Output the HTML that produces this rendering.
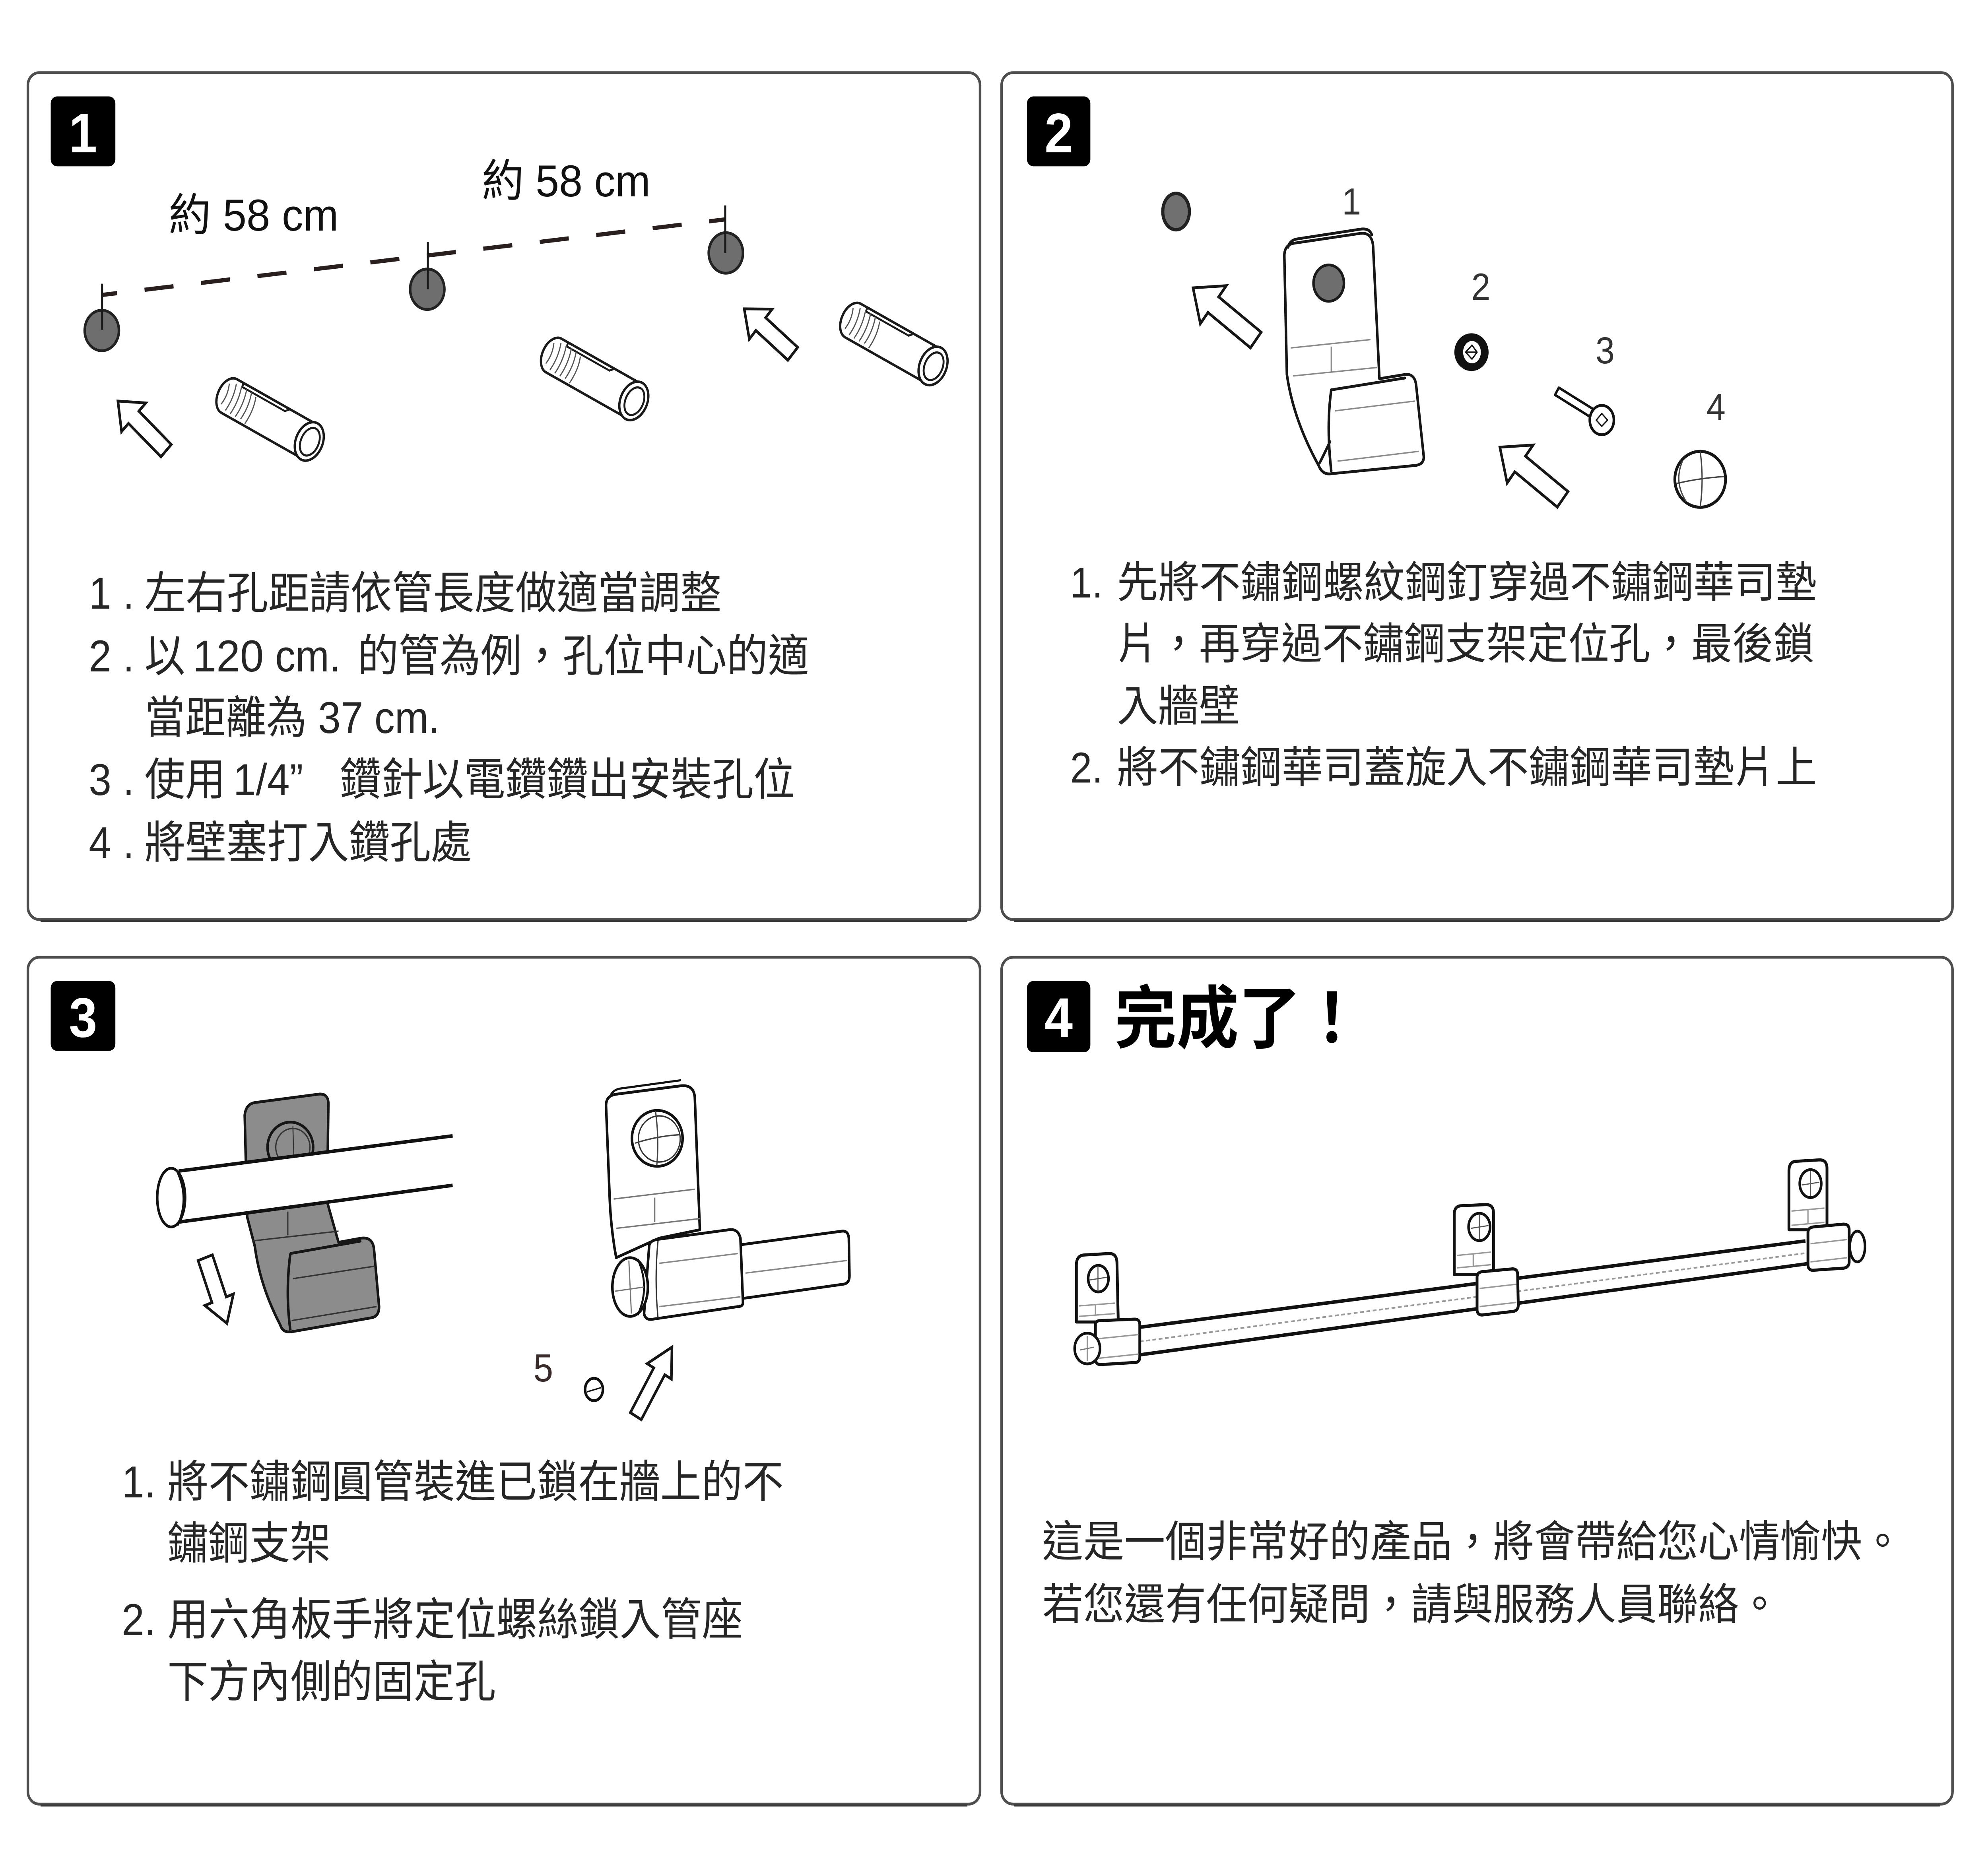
<!DOCTYPE html>
<html>
<head>
<meta charset="utf-8">
<style>
html,body{margin:0;padding:0;background:#fff;overflow:hidden;width:100%;height:100%;}
svg{display:block;position:fixed;left:0;top:0;width:100vw;height:100vh;}
</style>
</head>
<body>
<svg xmlns="http://www.w3.org/2000/svg" xmlns:xlink="http://www.w3.org/1999/xlink" viewBox="0 0 1568 1338.16" preserveAspectRatio="none">
<style>
.t{font-family:"Liberation Sans","Noto Sans CJK TC",sans-serif;fill:#262626;}
.b{font-family:"Liberation Sans","Noto Sans CJK TC",sans-serif;font-weight:bold;fill:#fff;}
.ln{fill:none;stroke:#161616;stroke-width:2;stroke-linejoin:round;stroke-linecap:round;}
.gl{fill:none;stroke:#8a8a8a;stroke-width:1;}
.ar{fill:#fff;stroke:#161616;stroke-width:2;stroke-linejoin:miter;}
</style>
<defs>
  <g id="anc">
    <path d="M2,-13.5 L72,-13.5 L72,13.5 L2,13.5 A9,13.5 0 0 1 2,-13.5 Z" fill="#fff" stroke="#1a1a1a" stroke-width="1.8"/>
    <path d="M8,-13.5 L8,-10.5 L46,-10.5 L49,-13.5" fill="none" stroke="#1a1a1a" stroke-width="1.4"/>
    <path d="M-2,-8 Q1,0 -1,8 M3,-10.5 Q6,0 4,10.5 M7.5,-11 Q10.5,0 8.5,11 M12,-11 Q15,0 13,11 M16.5,-10.5 Q19.5,0 17.5,10.5 M21,-9 Q24,0 22,12" fill="none" stroke="#555" stroke-width="0.9"/>
    <ellipse cx="73" cy="0" rx="10.5" ry="14.5" fill="#fff" stroke="#1a1a1a" stroke-width="1.8"/>
    <ellipse cx="73.5" cy="0" rx="7" ry="10.5" fill="#fff" stroke="#1a1a1a" stroke-width="1.5"/>
  </g>
</defs>

<rect x="0" y="0" width="1568" height="1338.16" fill="#fff"/>

<!-- Panels -->
<g fill="#fff" stroke="#4e4e4e" stroke-width="2">
  <rect x="22" y="52" width="751" height="606" rx="9"/>
  <rect x="790" y="52" width="750" height="606" rx="9"/>
  <rect x="22" y="685" width="751" height="606" rx="9"/>
  <rect x="790" y="685" width="750" height="606" rx="9"/>
</g>
<g fill="none" stroke="#3a3a3a" stroke-width="1.5">
  <path d="M32,659 L763,659"/>
  <path d="M800,659 L1530,659"/>
  <path d="M32,1292 L763,1292"/>
  <path d="M800,1292 L1530,1292"/>
</g>

<!-- Badges -->
<rect x="40" y="69" width="51" height="50" rx="5" fill="#000"/>
<text class="b" x="65.5" y="109" font-size="40" text-anchor="middle">1</text>
<rect x="810" y="69" width="50" height="50" rx="5" fill="#000"/>
<text class="b" x="835" y="109" font-size="40" text-anchor="middle">2</text>
<rect x="40" y="702" width="51" height="50" rx="5" fill="#000"/>
<text class="b" x="65.5" y="742" font-size="40" text-anchor="middle">3</text>
<rect x="810" y="702" width="50" height="51" rx="5" fill="#000"/>
<text class="b" x="835" y="742" font-size="40" text-anchor="middle">4</text>
<text class="t" x="879" y="746" font-size="49" font-weight="bold" style="fill:#000">完成了！</text>

<!-- ============ PANEL 1 drawing ============ -->
<text class="t" x="133" y="165" font-size="32" textLength="134" lengthAdjust="spacingAndGlyphs" style="fill:#111">約 58 cm</text>
<text class="t" x="380" y="140.5" font-size="32" textLength="133" lengthAdjust="spacingAndGlyphs" style="fill:#111">約 58 cm</text>

<line x1="81" y1="211" x2="572" y2="157" stroke="#2a1f1f" stroke-width="3" stroke-dasharray="23 21.8" stroke-dashoffset="11.6"/>

<ellipse cx="80.3" cy="236.5" rx="13.5" ry="14.5" fill="#6e6e6e" stroke="#222" stroke-width="2"/>
<ellipse cx="337" cy="207" rx="13.5" ry="14.5" fill="#6e6e6e" stroke="#222" stroke-width="2"/>
<ellipse cx="572.5" cy="181" rx="13.5" ry="14.5" fill="#6e6e6e" stroke="#222" stroke-width="2"/>
<g stroke="#1a1a1a" stroke-width="1.6">
  <line x1="80.5" y1="203" x2="80.5" y2="236"/>
  <line x1="337.5" y1="173" x2="337.5" y2="207"/>
  <line x1="572" y1="147" x2="572" y2="181"/>
</g>

<use xlink:href="#anc" href="#anc" transform="translate(179,282.5) rotate(27.2)"/>
<use xlink:href="#anc" href="#anc" transform="translate(435,253.5) rotate(27.2)"/>
<use xlink:href="#anc" href="#anc" transform="translate(671,228.5) rotate(27.2)"/>

<polygon class="ar" transform="translate(93,287) rotate(43)" points="0,0 17,-14 17,-6 52,-6 52,6 17,6 17,14"/>
<polygon class="ar" transform="translate(587,221) rotate(40)" points="0,0 17,-14 17,-6 50,-6 50,6 17,6 17,14"/>

<!-- Panel 1 text -->
<g class="t" font-size="32">
  <text x="70" y="435.5">1</text><text x="97" y="435.5">.</text>
  <text x="114" y="435.5" textLength="455" lengthAdjust="spacingAndGlyphs">左右孔距請依管長度做適當調整</text>

  <text x="70" y="480.5">2</text><text x="97" y="480.5">.</text>
  <text x="114" y="480.5">以</text>
  <text x="152" y="480.5" textLength="56" lengthAdjust="spacingAndGlyphs">120</text>
  <text x="217" y="480.5">cm.</text>
  <text x="282" y="480.5" textLength="356" lengthAdjust="spacingAndGlyphs">的管為例，孔位中心的適</text>

  <text x="114" y="524.5">當距離為 37 cm.</text>

  <text x="70" y="569">3</text><text x="97" y="569">.</text>
  <text x="114" y="569">使用</text>
  <text x="184" y="569">1/4”</text>
  <text x="268" y="569" textLength="359" lengthAdjust="spacingAndGlyphs">鑽針以電鑽鑽出安裝孔位</text>

  <text x="70" y="614">4</text><text x="97" y="614">.</text>
  <text x="114" y="614" textLength="258" lengthAdjust="spacingAndGlyphs">將壁塞打入鑽孔處</text>
</g>

<!-- ============ PANEL 2 drawing ============ -->
<ellipse cx="927.6" cy="151.4" rx="10.5" ry="13" fill="#707070" stroke="#222" stroke-width="2.5"/>
<text class="t" x="1066" y="153.5" font-size="27" text-anchor="middle" style="fill:#333">1</text>

<!-- bracket -->
<path class="ln" style="fill:#fff" d="M1013,183 Q1013,175 1021,174 L1073,167 Q1082,166 1083,176 L1088,271 L1108,268 Q1116,267 1117,276 L1123,327 Q1123,332 1117,333 L1050,339 Q1043,340 1040,333 Q1020,300 1015,268 Z"/>
<path class="ln" d="M1016,177 Q1017,172 1023,171 L1073,164 Q1080,163 1082,168"/>
<path class="ln" d="M1050,279 L1108,270.5"/>
<path class="ln" d="M1050,279 Q1046,305 1050,337"/>
<path class="ln" stroke-width="1.4" d="M1041,331 Q1046,322 1049,316"/>
<path class="gl" d="M1018,249 L1081,243 M1020,269 L1086,263 M1050,248 L1050,266 M1053,294 L1116,287 M1055,330 L1119,323"/>
<ellipse cx="1048" cy="202.6" rx="12" ry="13" fill="#6e6e6e" stroke="#1a1a1a" stroke-width="2"/>

<polygon class="ar" transform="translate(941,206) rotate(37)" points="0,0 20,-17 20,-7 62,-7 62,7 20,7 20,17"/>

<text class="t" x="1168" y="214.5" font-size="27" text-anchor="middle" style="fill:#333">2</text>
<circle cx="1160.6" cy="252" r="13.5" fill="#111"/>
<ellipse cx="1161" cy="252" rx="7" ry="8" fill="#fff"/>
<path d="M1156,252 L1161,247 L1165,252 L1161,257 Z M1156,252 L1165,252" fill="none" stroke="#111" stroke-width="1"/>

<text class="t" x="1266" y="260" font-size="27" text-anchor="middle" style="fill:#333">3</text>
<polygon points="1226.5,282.6 1229.5,277.4 1259.5,294.4 1256.5,299.6" fill="#fff" stroke="#111" stroke-width="1.8" stroke-linejoin="round"/>
<ellipse cx="1263.4" cy="300.6" rx="9.5" ry="10.5" fill="#fff" stroke="#111" stroke-width="2"/>
<path d="M1259,300.6 L1263.4,296 L1268,300.6 L1263.4,305 Z" fill="none" stroke="#111" stroke-width="1"/>

<text class="t" x="1353.5" y="300.5" font-size="27" text-anchor="middle" style="fill:#333">4</text>
<circle cx="1341" cy="343" r="20" fill="#fff" stroke="#161616" stroke-width="2.2"/>
<path d="M1327,330 Q1320,345 1330,359" fill="none" stroke="#444" stroke-width="1"/>
<path d="M1341,323 Q1344,343 1341,363 M1322,346 Q1341,342 1360,341" fill="none" stroke="#444" stroke-width="1"/>

<polygon class="ar" transform="translate(1183,320) rotate(37)" points="0,0 20,-17 20,-7 62,-7 62,7 20,7 20,17"/>

<!-- Panel 2 text -->
<g class="t" font-size="31">
  <text x="844" y="427.5">1.</text>
  <text x="881" y="427.5" textLength="552" lengthAdjust="spacingAndGlyphs">先將不鏽鋼螺紋鋼釘穿過不鏽鋼華司墊</text>
  <text x="881" y="471.5" textLength="550" lengthAdjust="spacingAndGlyphs">片，再穿過不鏽鋼支架定位孔，最後鎖</text>
  <text x="881" y="516" textLength="97" lengthAdjust="spacingAndGlyphs">入牆壁</text>
  <text x="844" y="560">2.</text>
  <text x="881" y="560" textLength="552" lengthAdjust="spacingAndGlyphs">將不鏽鋼華司蓋旋入不鏽鋼華司墊片上</text>
</g>

<!-- ============ PANEL 3 drawing ============ -->
<!-- gray bracket -->
<path d="M193,798 Q194,790 201,789 L251,783 Q259,782 259,790 L258,860 L267,889 L285,886 Q294,885 295,894 L299,935 Q299,942 293,943 L230,953 Q223,954 221,948 Q205,920 201,892 L195,871 Z" fill="#8c8c8c" stroke="#161616" stroke-width="2" stroke-linejoin="round"/>
<path d="M229,897 L285,888" fill="none" stroke="#161616" stroke-width="2"/>
<path d="M229,897 Q225,925 229,952" fill="none" stroke="#161616" stroke-width="2"/>
<path d="M199,888 L267,881 M227,867 L227,884 M231,915 L296,906 M230,945 L297,935" fill="none" stroke="#333" stroke-width="1"/>
<circle cx="229" cy="821" r="18" fill="#8c8c8c" stroke="#161616" stroke-width="2"/>
<circle cx="231" cy="821" r="13.5" fill="#8c8c8c" stroke="#333" stroke-width="1"/>
<path d="M231,806 L232,836" stroke="#333" stroke-width="0.8"/>

<!-- tube -->
<polygon points="141,838 357,812.8 357,848.2 141,874.5" fill="#fff"/>
<path d="M141,838 L357,812.8 M141,874.5 L357,848.2" fill="none" stroke="#111" stroke-width="2.5"/>
<ellipse cx="135" cy="857" rx="11" ry="21" fill="#fff" stroke="#111" stroke-width="2"/>
<path d="M139,837 Q150,857 140,877" fill="none" stroke="#111" stroke-width="1.5"/>

<polygon class="ar" transform="translate(179,947) rotate(-110)" points="0,0 18,-12 18,-6 50,-6 50,6 18,6 18,12"/>

<!-- white bracket -->
<path d="M478,791 Q478,784 486,783 L537,777 Q547,776 548,785 L552,880 L520,886 L486,900 Q482,880 481,860 Z" fill="#fff" stroke="#111" stroke-width="2" stroke-linejoin="round"/>
<path d="M481,785 Q483,780 489,779 L537,773" fill="none" stroke="#111" stroke-width="1.5"/>
<circle cx="518.4" cy="814.6" r="20" fill="#fff" stroke="#111" stroke-width="2"/>
<circle cx="520" cy="815" r="16.5" fill="none" stroke="#333" stroke-width="1"/>
<path d="M501,818 Q518,813 536,812 M517,795 Q520,815 518,834" fill="none" stroke="#444" stroke-width="1"/>
<path d="M484,858 L548,851 M486,879 L552,872 M516.4,857 L516.4,874.5" fill="none" stroke="#777" stroke-width="1"/>

<path d="M582,891 L664,881 Q669,880.5 669.5,886 L670,913 Q670,918.5 665,919 L587,929" fill="#fff" stroke="#111" stroke-width="2" stroke-linejoin="round"/>
<path d="M588,911 L668,902" fill="none" stroke="#888" stroke-width="1"/>
<path d="M512,892 Q512,888 518,887 L575,880 Q582,879 584,886 L586,932 Q586,935 582,935 L515,944 Q509,945 508,940 Z" fill="#fff" stroke="#111" stroke-width="2" stroke-linejoin="round"/>
<path d="M519,888 Q516,915 519,943" fill="none" stroke="#333" stroke-width="1"/>
<path d="M520,904 L582,897 M520,935 L584,928" fill="none" stroke="#888" stroke-width="1"/>
<ellipse cx="497" cy="921" rx="14" ry="21" fill="#fff" stroke="#111" stroke-width="2"/>
<path d="M503,901 Q513,921 503,941" fill="none" stroke="#111" stroke-width="1.5"/>
<path d="M485,924 L508,921 M496,902 L498,940" fill="none" stroke="#777" stroke-width="0.9"/>

<text class="t" x="428.5" y="988.5" font-size="28" text-anchor="middle" style="fill:#3a2b2b">5</text>
<ellipse cx="468.5" cy="994.3" rx="7" ry="8" fill="#fff" stroke="#111" stroke-width="2"/>
<path d="M463,996 L474,993" stroke="#111" stroke-width="1"/>
<polygon class="ar" transform="translate(530,964) rotate(120)" points="0,0 20,-11 20,-5 57,-5 57,5 20,5 20,11"/>

<!-- Panel 3 text -->
<g class="t" font-size="32">
  <text x="96" y="1071.5">1.</text>
  <text x="132" y="1071.5" textLength="486" lengthAdjust="spacingAndGlyphs">將不鏽鋼圓管裝進已鎖在牆上的不</text>
  <text x="132" y="1115.5" textLength="129" lengthAdjust="spacingAndGlyphs">鏽鋼支架</text>
  <text x="96" y="1170">2.</text>
  <text x="132" y="1170" textLength="454" lengthAdjust="spacingAndGlyphs">用六角板手將定位螺絲鎖入管座</text>
  <text x="132" y="1214.5" textLength="259" lengthAdjust="spacingAndGlyphs">下方內側的固定孔</text>
</g>

<!-- ============ PANEL 4 drawing ============ -->
<polygon points="897,950 1424,888 1428,904 899,969.5" fill="#fff"/>
<path d="M897,950 L1424,888 M899,969.5 L1428,904" fill="none" stroke="#111" stroke-width="2.5"/>
<path d="M899,960 L1426,896.5" fill="none" stroke="#999" stroke-width="1.2" stroke-dasharray="3 2"/>

<!-- left bracket -->
<path d="M849,946 L849,905 Q849,898 856,898 L875,897 Q881,897 881,904 L882,946 Z" fill="#fff" stroke="#111" stroke-width="2.2" stroke-linejoin="round"/>
<ellipse cx="866.3" cy="915" rx="8" ry="9.5" fill="#fff" stroke="#111" stroke-width="2"/>
<path d="M866,906 L866,924 M859,916 L873,914" fill="none" stroke="#555" stroke-width="0.8"/>
<path d="M851,934.5 L879.5,932.5 M851,942 L879.5,940 M864,934 L864,941" fill="none" stroke="#999" stroke-width="1"/>
<path d="M864,948 Q864,945 868,945 L895,944 Q899,944 899,948 L899,971 Q899,975 895,975 L868,976.5 Q864,976.5 864,972 Z" fill="#fff" stroke="#111" stroke-width="2.2"/>
<path d="M866,958 L898,955 M866,972 L898,969" fill="none" stroke="#999" stroke-width="1"/>
<ellipse cx="857.6" cy="965" rx="10" ry="11" fill="#fff" stroke="#111" stroke-width="2"/>
<path d="M852,966 L863,964 M857.5,956 L857.5,974" fill="none" stroke="#777" stroke-width="0.8"/>

<!-- middle bracket -->
<path d="M1147,912 L1147,869 Q1147,862.8 1153,862.8 L1172,862 Q1178,862 1178,868 L1178,912 Z" fill="#fff" stroke="#111" stroke-width="2.2" stroke-linejoin="round"/>
<ellipse cx="1166.8" cy="878" rx="8.5" ry="9.8" fill="#fff" stroke="#111" stroke-width="2"/>
<path d="M1166.8,869 L1166.8,887 M1160,879 L1174,877" fill="none" stroke="#555" stroke-width="0.8"/>
<path d="M1149,898.4 L1176,896 M1149,907.3 L1176,905 M1162,897 L1162,906" fill="none" stroke="#999" stroke-width="1"/>
<path d="M1165,914 Q1165,910.5 1169,910 L1193,908 Q1197,908 1197,912 L1197.5,934 Q1197.5,938 1193,938.5 L1169,941 Q1165,941 1165,937 Z" fill="#fff" stroke="#111" stroke-width="2.2"/>
<path d="M1167,922 L1196,919 M1167,935 L1196,932" fill="none" stroke="#999" stroke-width="1"/>

<!-- right bracket -->
<path d="M1411,880 L1411,838 Q1411,831 1417,831 L1435,830 Q1441,830 1441,836 L1441,880 Z" fill="#fff" stroke="#111" stroke-width="2.2" stroke-linejoin="round"/>
<ellipse cx="1428" cy="847" rx="8.5" ry="10" fill="#fff" stroke="#111" stroke-width="2"/>
<path d="M1428,838 L1428,856 M1421,848 L1435,846" fill="none" stroke="#555" stroke-width="0.8"/>
<path d="M1413,866.6 L1439,864.5 M1413,876.8 L1439,874.7 M1426,866 L1426,876" fill="none" stroke="#999" stroke-width="1"/>
<path d="M1426,882 Q1426,878.5 1430,878 L1454,876 Q1458.5,876 1458.5,880 L1458.5,903 Q1458.5,907 1454,907.5 L1430,909 Q1426,909 1426,905 Z" fill="#fff" stroke="#111" stroke-width="2.2"/>
<path d="M1428,890 L1457,887 M1428,903 L1457,900" fill="none" stroke="#999" stroke-width="1"/>
<ellipse cx="1465" cy="892" rx="6" ry="11" fill="#fff" stroke="#111" stroke-width="2"/>

<!-- Panel 4 text -->
<g class="t" font-size="31">
  <text x="822" y="1114" textLength="679" lengthAdjust="spacingAndGlyphs">這是一個非常好的產品，將會帶給您心情愉快。</text>
  <text x="822" y="1159" textLength="582" lengthAdjust="spacingAndGlyphs">若您還有任何疑問，請與服務人員聯絡。</text>
</g>

</svg>
</body>
</html>
